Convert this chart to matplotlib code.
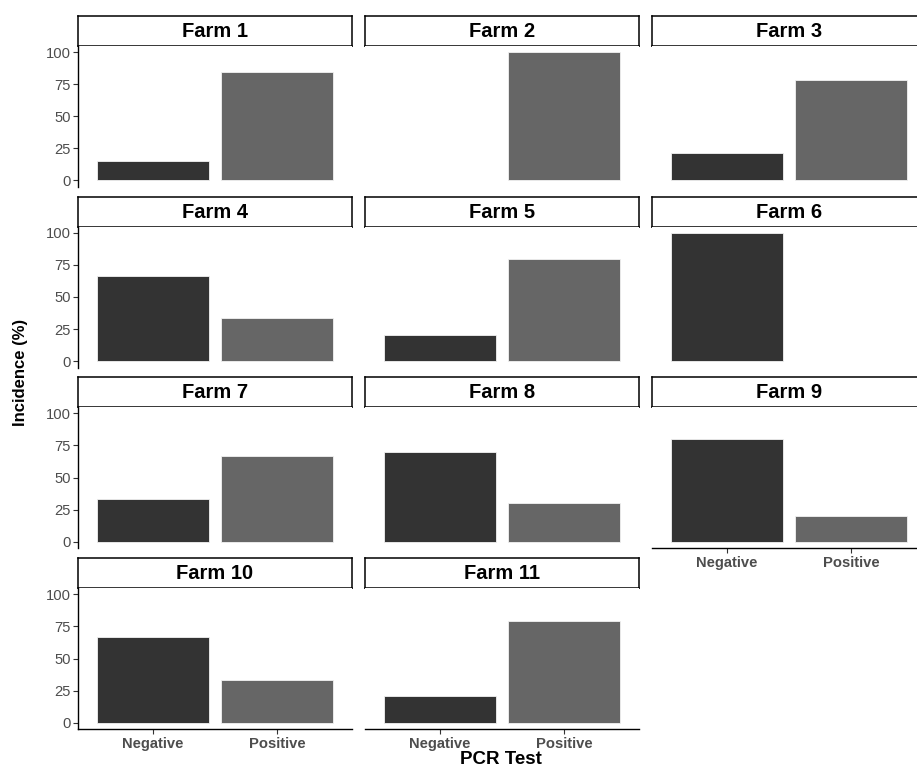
import matplotlib
matplotlib.use("Agg")
import matplotlib.pyplot as plt

plt.rcParams["font.family"] = ["Liberation Sans", "DejaVu Sans"]

# Incidence (%) of PCR results per farm
farms = ["Farm 1", "Farm 2", "Farm 3", "Farm 4", "Farm 5", "Farm 6",
         "Farm 7", "Farm 8", "Farm 9", "Farm 10", "Farm 11"]
tests = ["Negative", "Positive"]
negative = [15.4, 0.0, 21.4, 66.7, 20.0, 100.0, 33.3, 70.0, 80.0, 66.7, 21.1]
positive = [84.6, 100.0, 78.6, 33.3, 80.0, 0.0, 66.7, 30.0, 20.0, 33.3, 78.9]
bar_colors = ["#333333", "#666666"]
y_ticks = [0, 25, 50, 75, 100]

W, H = 917, 769
fig = plt.figure(figsize=(W / 100, H / 100), dpi=100)
fig.patch.set_facecolor("white")

col_left = [78, 365, 652]
panel_w = 274
row_top = [15.7, 196.5, 377.0, 558.0]
strip_h = 30
panel_h = 141
ncol = 3
n = len(farms)


def fx(px):
    return px / W


def fy(py):
    return 1 - py / H


for i, farm in enumerate(farms):
    r, c = divmod(i, ncol)
    x0 = col_left[c]
    st = row_top[r]
    pt = st + strip_h
    # facet strip
    sax = fig.add_axes([fx(x0), fy(st + strip_h), panel_w / W, strip_h / H])
    sax.set_xticks([])
    sax.set_yticks([])
    for sp in sax.spines.values():
        sp.set_color("black")
        sp.set_linewidth(1.1)
    sax.text(0.5, 0.47, farm, ha="center", va="center", fontsize=14.5,
             fontweight="bold", color="black", transform=sax.transAxes)

    # panel with the two bars
    ax = fig.add_axes([fx(x0), fy(pt + panel_h), panel_w / W, panel_h / H])
    vals = [negative[i], positive[i]]
    widths = [0.6 if v > 0 else 0.0 for v in vals]
    ax.bar([1, 2], vals, width=0.9, color=bar_colors, edgecolor="#f2f2f2",
           linewidth=widths)
    ax.set_xlim(0.4, 2.6)
    ax.set_ylim(-5, 105)
    for sp in ["top", "right"]:
        ax.spines[sp].set_visible(False)

    is_left = c == 0
    is_bottom = i + ncol >= n

    if is_left:
        ax.spines["left"].set_linewidth(1.0)
        ax.spines["left"].set_color("black")
        ax.set_yticks(y_ticks)
        ax.set_yticklabels([str(t) for t in y_ticks])
        ax.tick_params(axis="y", length=3.5, width=0.8, color="#333333",
                       labelsize=10.6, labelcolor="#4D4D4D", pad=1.5)
    else:
        ax.spines["left"].set_visible(False)
        ax.set_yticks([])

    if is_bottom:
        ax.spines["bottom"].set_linewidth(1.0)
        ax.spines["bottom"].set_color("black")
        ax.set_xticks([1, 2])
        ax.set_xticklabels(tests, fontweight="bold")
        ax.tick_params(axis="x", length=3.5, width=0.8, color="#333333",
                       labelsize=10.6, labelcolor="#4D4D4D", pad=2.5)
    else:
        ax.spines["bottom"].set_visible(False)
        ax.set_xticks([])

fig.text(fx(501), fy(759), "PCR Test", ha="center", va="center",
         fontsize=13.5, fontweight="bold", color="black")
fig.text(fx(21), fy(372), "Incidence (%)", ha="center", va="center",
         rotation=90, fontsize=12, fontweight="bold", color="black")

fig.savefig("out.png", dpi=100)
